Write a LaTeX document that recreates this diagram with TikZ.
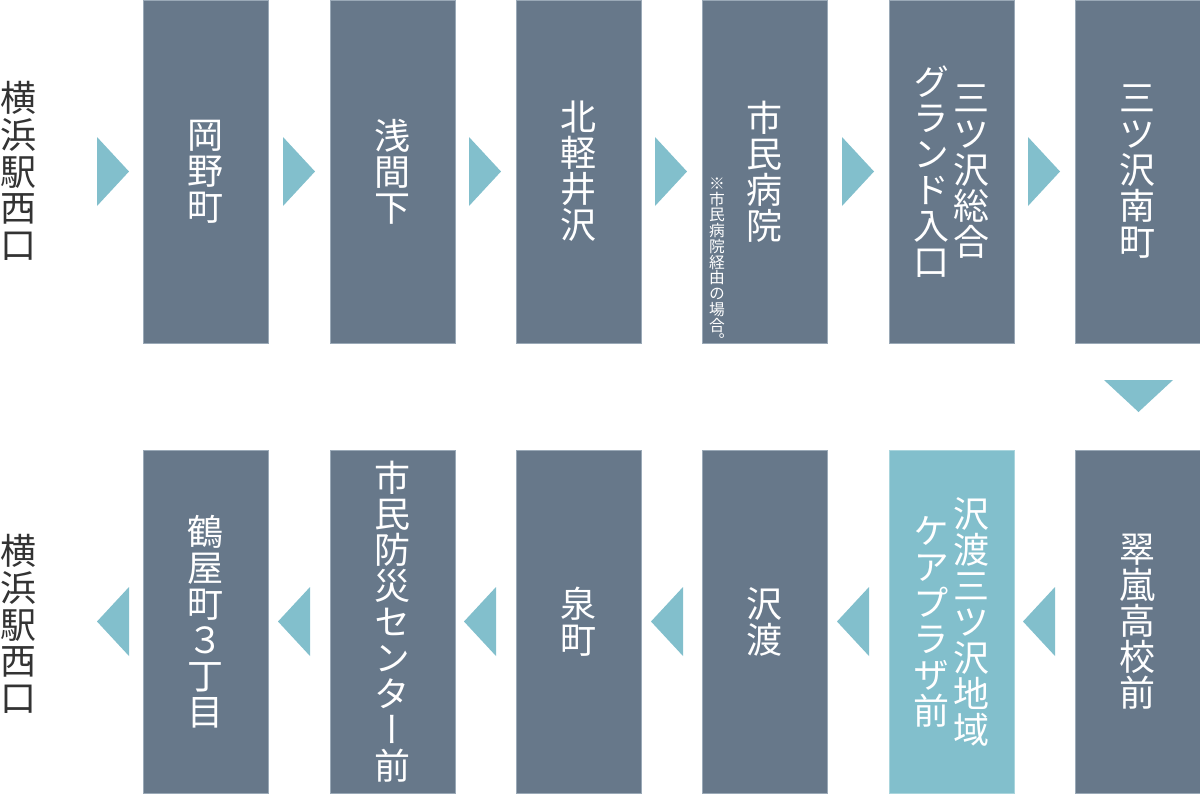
\documentclass[tikz,border=0pt]{standalone}
\usepackage{fontspec}
\usepackage{xcolor}
\usepackage{tikz}
\setmainfont{Noto Sans CJK JP}
\newfontfamily\tatefont[RawFeature=+vert]{Noto Sans CJK JP}
\definecolor{stopgray}{HTML}{67788A}
\definecolor{stopedge}{HTML}{9AA9B7}
\definecolor{flowblue}{HTML}{82BFCC}
\definecolor{flowedge}{HTML}{A9D5DD}
\definecolor{labelgray}{HTML}{333333}
\tikzset{
  stopbox/.style={draw=stopedge, fill=stopgray, line width=0.75pt, minimum width=93.75pt, minimum height=257.25pt, inner sep=0pt, text=white, align=center, font=\tatefont\fontsize{27pt}{27pt}\selectfont},
  stoptext/.style={inner sep=0pt, text=white, align=center, font=\tatefont\fontsize{27pt}{27pt}\selectfont},
  endlabel/.style={inner sep=0pt, text=labelgray, align=center, font=\tatefont\fontsize{27pt}{27.5pt}\selectfont},
  notetext/.style={inner sep=0pt, text=white, align=center, font=\tatefont\fontsize{11.8pt}{11.8pt}\selectfont},
  flow/.style={fill=flowblue}
}

\begin{document}
\begin{tikzpicture}[x=0.75pt,y=0.75pt,yscale=-1]
  \useasboundingbox (0,0) rectangle (1200,794);

  %Label: start
  \node[endlabel] (startlabel) at (19,171) {横\\浜\\駅\\西\\口};

  %Stops: top row
  \node[stopbox] (okanomachi) at (205.5,171.5) {岡\\野\\町};
  \node[stopbox] (sengenshita) at (392.5,171.5) {浅\\間\\下};
  \node[stopbox] (kitakaruizawa) at (578.5,171.5) {北\\軽\\井\\沢};
  \node[stopbox] (shiminbyoin) at (764.5,171.5) {市\\民\\病\\院};
  \node[notetext, anchor=south] (byoinnote) at (717,347) {※\\市\\民\\病\\院\\経\\由\\の\\場\\合\\。};
  \node[stopbox] (grandiriguchi) at (951.5,171.5) {};
  \node[stoptext] (grandR) at (971.5,171.5) {三\\ツ\\沢\\総\\合};
  \node[stoptext] (grandL) at (931.5,171.5) {グ\\ラ\\ン\\ド\\入\\口};
  \node[stopbox] (minamimachi) at (1137.5,171.5) {三\\ツ\\沢\\南\\町};

  %Arrows: top row, pointing right
  \fill[flow] (97,137) -- (129,171.5) -- (97,206) -- cycle;
  \fill[flow] (283,137) -- (315,171.5) -- (283,206) -- cycle;
  \fill[flow] (469,137) -- (501,171.5) -- (469,206) -- cycle;
  \fill[flow] (655,137) -- (687,171.5) -- (655,206) -- cycle;
  \fill[flow] (842,137) -- (874,171.5) -- (842,206) -- cycle;
  \fill[flow] (1028,137) -- (1060,171.5) -- (1028,206) -- cycle;

  %Arrow: turn down
  \fill[flow] (1104,380) -- (1173,380) -- (1138.5,412) -- cycle;

  %Stops: bottom row
  \node[stopbox] (suirankoko) at (1137.5,622) {翠\\嵐\\高\\校\\前};
  \node[stopbox, fill=flowblue, draw=flowedge] (careplaza) at (951.5,622) {};
  \node[stoptext] (careR) at (971.5,622) {沢\\渡\\三\\ツ\\沢\\地\\域};
  \node[stoptext] (careL) at (931.5,622) {ケ\\ア\\プ\\ラ\\ザ\\前};
  \node[stopbox] (sawatari) at (764.5,622) {沢\\渡};
  \node[stopbox] (izumicho) at (578.5,622) {泉\\町};
  \node[stopbox] (bosai) at (392.5,622) {市\\民\\防\\災\\セ\\ン\\タ\\ー\\前};
  \node[stopbox] (tsuruyacho) at (205.5,622) {鶴\\屋\\町\\３\\丁\\目};

  %Arrows: bottom row, pointing left
  \fill[flow] (1055,587) -- (1023,621.5) -- (1055,656) -- cycle;
  \fill[flow] (869,587) -- (837,621.5) -- (869,656) -- cycle;
  \fill[flow] (683,587) -- (651,621.5) -- (683,656) -- cycle;
  \fill[flow] (496,587) -- (464,621.5) -- (496,656) -- cycle;
  \fill[flow] (310,587) -- (278,621.5) -- (310,656) -- cycle;
  \fill[flow] (129,587) -- (97,621.5) -- (129,656) -- cycle;

  %Label: end
  \node[endlabel] (endlabel) at (19,624) {横\\浜\\駅\\西\\口};

\end{tikzpicture}
\end{document}
